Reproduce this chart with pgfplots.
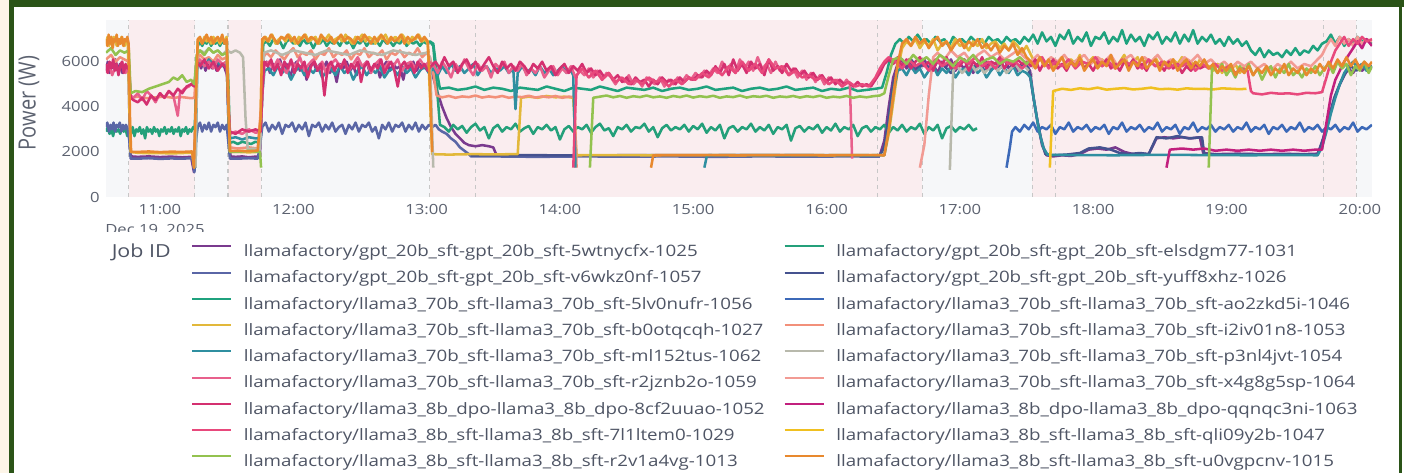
\documentclass[border=0pt]{standalone}
\usepackage{fontspec}
\setmainfont{Open Sans}
\newfontfamily\wide{Open Sans}[FakeStretch=1.19]
\usepackage{pgfplots}
\pgfplotsset{compat=1.18}
\definecolor{framegreen}{HTML}{2B5418}
\definecolor{cream}{HTML}{FDF5E8}
\definecolor{plotbg}{HTML}{F6F7F9}
\definecolor{pinkbg}{HTML}{FAEDEF}
\definecolor{tickgrey}{HTML}{5C6270}
\definecolor{leggrey}{HTML}{4F5565}
\definecolor{c1025}{HTML}{7A3A8E}
\definecolor{c1031}{HTML}{24A07A}
\definecolor{c1057}{HTML}{5A66A6}
\definecolor{c1026}{HTML}{45528F}
\definecolor{c1056}{HTML}{1FA27E}
\definecolor{c1046}{HTML}{3C69B8}
\definecolor{c1027}{HTML}{E2B83A}
\definecolor{c1053}{HTML}{F2907A}
\definecolor{c1062}{HTML}{2F8FA0}
\definecolor{c1054}{HTML}{B8B9AC}
\definecolor{c1059}{HTML}{E8608C}
\definecolor{c1064}{HTML}{F29B94}
\definecolor{c1052}{HTML}{D43070}
\definecolor{c1063}{HTML}{C2207E}
\definecolor{c1029}{HTML}{E8497C}
\definecolor{c1047}{HTML}{F0C020}
\definecolor{c1013}{HTML}{93C24F}
\definecolor{c1015}{HTML}{E8892E}
\newcommand\LE[1]{\rule[-1.5pt]{0pt}{11pt}\makebox[401.25pt][l]{#1}}
\begin{document}
\begin{tikzpicture}[x=0.75pt,y=0.75pt]
\clip (0,0) rectangle (1404,473);
\fill[white] (0,0) rectangle (1404,473);
\fill[cream] (0,0) rectangle (9,473);
\fill[framegreen] (9,0) rectangle (14,473);
\fill[framegreen] (9,466) rectangle (1404,473);
\fill[framegreen] (1399,0) rectangle (1402,473);
\node[anchor=north west, inner sep=0pt, text=tickgrey, font=\wide\fontsize{10.5}{12}\selectfont] at (105,249) {Dec 19, 2025};
\fill[white] (95,241) rectangle (260,200);
\node[rotate=90, text=tickgrey, font=\fontsize{15}{17}\selectfont] at (29,370) {\scalebox{1}[1.19]{Power (W)}};
\node[anchor=base west, inner sep=0pt, text=leggrey, font=\wide\fontsize{13.5}{15}\selectfont] at (111.5,215.3) {Job ID};
\begin{axis}[at={(79.5pt,207pt)}, anchor=south west, scale only axis,
  width=949.5pt, height=132.75pt,
  xmin=35.7, xmax=605.5, ymin=0, ymax=7850,
  axis line style={draw=none}, tick style={draw=none},
  xtick={60,120,180,240,300,360,420,480,540,600},
  xticklabels={11:00,12:00,13:00,14:00,15:00,16:00,17:00,18:00,19:00,20:00},
  ytick={0,2000,4000,6000},
  /pgf/number format/assume math mode=true,
  /pgf/number format/1000 sep={},
  ticklabel style={font=\wide\fontsize{10.5}{12}\selectfont, text=tickgrey},
  xticklabel style={anchor=center, yshift=-9.75pt},
  yticklabel style={anchor=east, inner xsep=4.5pt},
  axis background/.style={fill=plotbg},
  unbounded coords=jump,
  every axis plot/.append style={line width=1.9pt, line join=round},
  legend columns=2,
  legend cell align=left,
  legend image code/.code={\draw[#1, line width=1.6pt] (0pt,3.75pt) -- (29.25pt,3.75pt);},
  legend style={at={(0.06714,-0.2655)}, anchor=north west, draw=none, fill=none,
    inner sep=0pt, outer sep=0pt, row sep=8.69pt,
    font=\wide\fontsize{11.8}{14}\selectfont, text=leggrey,
    nodes={inner sep=0pt, outer sep=0pt},
    /tikz/every odd column/.style={column sep=8.8pt},
    /tikz/every even column/.style={column sep=3.45pt}},
]
\fill[pinkbg] (axis cs:46,0) rectangle (axis cs:75.7,7850);
\fill[pinkbg] (axis cs:90.6,0) rectangle (axis cs:105.5,7850);
\fill[pinkbg] (axis cs:181.5,0) rectangle (axis cs:403,7850);
\fill[pinkbg] (axis cs:452.6,0) rectangle (axis cs:598.5,7850);
\foreach \v in {46,75.7,90.6,105.5,181.5,201.8,382.8,403,452.6,463,583.6,598.5}{
  \edef\tmp{\noexpand\draw[black!22, line width=0.8pt, dash pattern=on 3pt off 3pt] (axis cs:\v,0) -- (axis cs:\v,7850);}\tmp }

% 1025 purple
\addplot[c1025] coordinates {(35.7,5600)(36.5,6000)(37.3,5500)(38,5900)(39,5700)(40,6100)(41,5600)(42,5900)(43,5500)(44,5800)(45,5700)(45.8,5900)(46.5,2200)(47,1800)(50,1780)(55,1800)(60,1770)(65,1790)(70,1760)(74,1780)(75.3,1100)(76.5,5600)(77.5,6100)(78.5,5700)(79.5,6000)(80.5,5600)(81.5,5900)(82.5,6100)(83.5,5700)(84.5,5900)(85.5,5600)(86.5,6000)(87.5,5800)(88.5,5900)(89.5,5600)(90.3,5400)(91,2500)(91.8,1800)(94,1780)(97,1800)(100,1760)(103,1790)(105,1780)(105.8,4000)(106.5,5800)(108,6000)(109.5,5500)(111,5900)(112.5,5700)(114,6100)(115.5,5600)(117,5900)(118.5,5300)(120,5800)(121.5,6000)(123,5600)(124.5,5900)(126,5200)(127.5,5800)(129,6000)(130.5,5600)(132,5900)(133.5,5700)(135,6000)(136.5,5500)(138,5800)(139.5,5100)(141,5900)(142.5,5700)(144,6000)(145.5,5600)(147,5800)(148.5,5400)(150,5900)(151.5,5700)(153,6000)(154.5,5500)(156,5800)(157.5,5900)(159,5300)(160.5,5800)(162,6000)(163.5,5600)(165,5900)(166.5,5700)(168,5800)(169.5,5200)(171,5900)(172.5,5700)(174,6000)(175.5,5600)(177,5900)(178.5,5700)(180,5800)(181.5,5700)(183,5300)(185,4600)(187,4000)(189,3500)(191,3100)(193,2800)(195,2600)(197,2400)(199,2300)(202,2250)(205,2300)(208,2250)(210,2200)(211.5,1850)(220,1830)(240,1850)(260,1820)(280,1840)(300,1830)(320,1850)(340,1830)(360,1840)(380,1850)(384,1850)(386,2500)(388,4000)(390,5300)(392,5900)(394,6100)(396,5700)(398,6000)(400,5600)(402,5900)(404,6100)(406,5700)(408,5900)(410,5500)(412,6000)(414,5800)(416,6100)(418,5600)(420,5900)(422,5700)(424,6000)(426,5500)(428,5900)(430,5700)(432,6000)(434,5600)(436,5900)(438,5800)(440,6100)(442,5700)(444,5900)(446,5600)(448,5900)(450,5800)(451.6,5600)(453,4500)(455,3300)(457,2300)(459,1850)(462,1800)(466,1850)(470,1820)(474,1900)(478,2100)(482,2150)(486,2100)(490,2200)(494,2000)(498,1900)(501,1920)(505,1900)(508.5,2600)(512,2650)(516,2600)(520,2650)(524,2600)(528,2650)(529.5,1950)(535,1900)(545,1920)(555,1900)(565,1910)(575,1900)(581,1920)(583,2400)(585,3100)(587,3800)(589,4500)(591,5000)(593,5400)(595,5700)(597,5500)(599,5900)(601,5600)(603,5800)(605.5,5700)};
\addlegendentry{\LE{llamafactory/gpt\_20b\_sft-gpt\_20b\_sft-5wtnycfx-1025}}
% 1031 green
\addplot[c1031] coordinates {(35.7,2900)(36.5,3100)(37.3,2800)(38.1,3000)(38.9,2700)(39.7,3100)(40.5,2900)(41.3,3000)(42.1,2800)(42.9,3100)(43.7,2900)(44.5,3000)(45.3,2700)(46.1,3000)(46.9,2800)(47.7,3100)(48.5,2700)(49.3,3000)(50.1,2900)(50.9,3100)(51.7,2800)(52.5,3000)(53.3,2600)(54.1,3100)(54.9,2900)(55.7,3000)(56.5,2800)(57.3,3100)(58.1,2900)(58.9,3000)(59.7,2700)(60.5,3000)(61.3,2900)(62.1,3100)(62.9,2800)(63.7,3000)(64.5,2900)(65.3,3100)(66.1,2800)(66.9,3000)(67.7,2900)(68.5,3100)(69.3,2700)(70.1,3000)(70.9,2900)(71.7,3100)(72.5,2800)(73.3,3000)(74.1,2900)(74.9,3100)(75.6,3000)(76.3,4800)(77,6700)(78,6900)(79,6700)(80,6900)(81,6800)(82,7000)(83,6700)(84,6900)(85,6800)(86,6900)(87,6700)(88,6900)(89,6800)(90,6900)(90.8,5000)(91.5,2400)(93,2450)(95,2350)(97,2450)(99,2400)(101,2350)(103,2450)(105,2400)(105.8,4500)(106.5,6800)(108,6900)(109.5,6700)(111,7000)(112.5,6800)(114,6900)(115.5,6600)(117,6900)(118.5,7000)(120,6800)(121.5,6900)(123,6700)(124.5,7000)(126,6800)(127.5,6900)(129,6600)(130.5,6900)(132,6800)(133.5,7000)(135,6700)(136.5,6900)(138,6800)(139.5,6900)(141,6700)(142.5,7000)(144,6800)(145.5,6900)(147,6600)(148.5,6900)(150,6800)(151.5,7000)(153,6700)(154.5,6900)(156,6800)(157.5,6900)(159,6700)(160.5,7000)(162,6800)(163.5,6900)(165,6700)(166.5,6900)(168,6800)(169.5,7000)(171,6700)(172.5,6900)(174,6800)(175.5,6900)(177,6700)(178.5,6900)(180,6800)(181.5,6900)(183,6700)(184.5,5000)(186,3200)(188,3100)(190,2900)(192,3200)(194,3000)(196,3150)(198,2850)(200,3100)(202,3250)(204,2950)(206,3100)(208,2600)(210,3050)(212,3200)(214,2900)(216,3100)(218,3000)(220,3250)(222,2900)(224,3050)(226,3150)(228,2800)(230,3100)(232,3000)(234,3200)(236,2950)(238,3100)(240,2550)(242,3000)(244,3150)(246,2900)(248,3100)(250,3000)(252,3200)(254,2850)(256,3100)(258,3250)(260,2950)(262,3050)(264,2700)(266,3100)(268,3000)(270,3200)(272,2900)(274,3100)(276,3050)(278,3250)(280,2900)(282,3100)(284,2650)(286,3050)(288,3200)(290,2950)(292,3100)(294,3000)(296,3200)(298,2900)(300,3150)(302,3000)(304,3250)(306,2850)(308,3100)(310,2950)(312,3200)(314,2600)(316,3050)(318,3150)(320,2900)(322,3100)(324,3000)(326,3250)(328,2900)(330,3100)(332,2950)(334,3200)(336,2800)(338,3100)(340,3000)(342,3200)(344,2500)(346,3050)(348,3150)(350,2900)(352,3100)(354,3000)(356,3200)(358,2850)(360,3100)(362,2950)(364,3250)(366,2900)(368,3100)(370,3000)(372,3200)(374,2700)(376,3050)(378,3150)(380,2900)(382,3100)(384,3000)(386,3200)(388,2850)(390,3100)(392,2950)(394,3200)(396,2900)(398,3100)(400,3000)(402,3250)(404,2800)(406,3100)(408,2950)(410,3200)(412,2600)(414,3050)(416,3150)(418,2900)(420,3100)(422,3000)(424,3200)(426,2950)(427.7,3050)};
\addlegendentry{\LE{llamafactory/gpt\_20b\_sft-gpt\_20b\_sft-elsdgm77-1031}}
% 1057 slate blue
\addplot[c1057] coordinates {(35.7,3100)(36.3,3300)(37,2900)(37.7,3200)(38.4,3000)(39.1,3300)(39.8,2900)(40.5,3200)(41.2,3100)(41.9,3300)(42.6,2900)(43.3,3200)(44,3000)(44.7,3200)(45.5,3000)(46.2,2500)(46.8,1700)(50,1700)(55,1720)(60,1690)(65,1710)(70,1700)(74.5,1720)(75.5,1100)(76.3,2600)(77,3100)(78,3300)(79,2900)(80,3200)(81,3000)(82,3300)(83,2900)(84,3200)(85,3100)(86,3300)(87,2900)(88,3200)(89,3000)(90,3200)(90.8,2400)(91.5,1700)(95,1700)(100,1720)(104,1700)(105.3,2500)(106,3100)(107.5,3300)(109,2900)(110.5,3200)(112,3000)(113.5,3300)(115,2800)(116.5,3200)(118,3100)(119.5,3300)(121,2900)(122.5,3200)(124,3000)(125.5,3300)(127,2700)(128.5,3200)(130,3100)(131.5,3300)(133,2900)(134.5,3200)(136,3000)(137.5,3300)(139,2900)(140.5,3100)(142,3200)(143.5,2800)(145,3200)(146.5,3000)(148,3300)(149.5,2900)(151,3200)(152.5,3100)(154,3300)(155.5,2900)(157,3100)(158.5,2600)(160,3200)(161.5,3000)(163,3300)(164.5,2900)(166,3200)(167.5,3100)(169,3300)(170.5,2900)(172,3200)(173.5,3000)(175,3300)(176.5,2900)(178,3200)(179.5,3000)(181,3200)(182.5,3100)(184,3200)(185.5,3000)(187,2900)(189,2800)(191,2600)(193,2450)(195,2200)(197,2050)(199,1900)(200,1800)(210,1800)(230,1780)(250,1800)(270,1790)(290,1800)(310,1780)(330,1800)(350,1790)(370,1800)(384,1790)};
\addlegendentry{\LE{llamafactory/gpt\_20b\_sft-gpt\_20b\_sft-v6wkz0nf-1057}}
% 1026 dark blue
\addplot[c1026] coordinates {(200,1850)(220,1860)(250,1840)(280,1860)(310,1850)(340,1860)(370,1840)(384,1850)(386,2200)(388,3500)(390,5000)(392,5700)(395,5800)(398,6100)(401,5700)(404,5900)(407,5600)(410,6000)(413,5800)(416,5500)(419,5900)(422,6100)(425,5700)(428,5900)(431,5600)(434,6000)(437,5800)(440,5700)(443,6000)(446,5800)(449,5900)(451,5700)(452.5,4800)(454.5,3600)(456.5,2600)(458.5,1900)(462,1850)(468,1880)(474,1950)(478,2150)(483,2200)(488,2100)(492,1950)(496,1900)(501,1950)(505,1900)(508.5,2650)(513,2600)(518,2700)(523,2600)(529,2650)(530,1900)(540,1880)(550,1900)(560,1880)(570,1900)(581,1880)(583.5,2600)(586,3500)(588.5,4400)(591,5000)(593.5,5500)(596,5800)(598.5,5600)(601,5900)(603.5,5700)(605.5,5800)};
\addlegendentry{\LE{llamafactory/gpt\_20b\_sft-gpt\_20b\_sft-yuff8xhz-1026}}
% 1056 green
\addplot[c1056] coordinates {(181.5,6900)(183,6800)(184.5,5600)(186,4800)(190,4850)(194,4750)(198,4800)(202,4900)(206,4750)(210,4850)(214,4800)(218,4700)(222,4850)(226,4800)(230,4750)(234,4900)(238,4800)(242,4700)(246,4850)(250,4800)(254,4750)(258,4900)(262,4800)(266,4700)(270,4850)(274,4800)(278,4750)(282,4850)(286,4700)(290,4800)(294,4850)(298,4750)(302,4800)(306,4900)(310,4750)(314,4800)(318,4850)(322,4700)(326,4800)(330,4850)(334,4750)(338,4800)(342,4900)(346,4750)(350,4800)(354,4850)(358,4700)(362,4800)(366,4750)(370,4850)(374,4700)(378,4750)(382,4800)(385,4850)(387,5500)(389,6300)(391,6800)(393,7000)(395,6800)(397,7100)(399,6900)(401,7200)(403,6900)(405,7000)(407,6800)(409,7100)(411,6900)(413,7000)(415,6700)(417,7100)(419,6900)(421,7000)(423,6800)(425,7100)(427,6900)(429,7000)(431,6800)(433,7100)(435,6900)(437,7000)(439,6800)(441,7100)(443,6900)(445,7000)(447,6800)(449,7100)(451,6900)(453,7200)(455,6800)(457,7300)(459,6900)(461,7100)(463,6700)(465,7200)(467,7000)(469,7400)(471,6800)(473,7100)(475,6900)(477,7300)(479,6700)(481,7100)(483,7000)(485,7300)(487,6800)(489,7100)(491,6900)(493,7400)(495,6800)(497,7200)(499,6900)(501,7100)(503,6700)(505,7200)(507,7000)(509,7300)(511,6800)(513,7100)(515,6900)(517,7300)(519,6800)(521,7200)(523,6900)(525,7400)(527,6800)(529,7100)(531,6900)(533,7200)(535,6800)(537,7000)(539,6700)(541,7100)(543,6800)(545,7000)(547,6700)(549,6900)(551,6500)(553,6300)(555,6600)(557,6200)(559,6500)(561,6300)(563,6400)(565,6200)(567,6500)(569,6300)(571,6600)(573,6300)(575,6500)(577,6400)(579,6700)(581,6500)(583,6800)(585,6900)(587,7200)(589,6800)(591,7100)(593,6700)(595,7000)(597,6800)(599,7100)(601,6900)(603,7000)(605.5,6800)};
\addlegendentry{\LE{llamafactory/llama3\_70b\_sft-llama3\_70b\_sft-5lv0nufr-1056}}
% 1046 blue
\addplot[c1046] coordinates {(441,1300)(442.5,2200)(443.5,2900)(445,3100)(447,2900)(449,3200)(451,3000)(453,3300)(455,2900)(457,3100)(459,3000)(461,3200)(463,2800)(465,3100)(467,3000)(469,3300)(471,2900)(473,3100)(475,3000)(477,3200)(479,2900)(481,3100)(483,3000)(485,3200)(487,2800)(489,3100)(491,3000)(493,3300)(495,2900)(497,3100)(499,3000)(501,3200)(503,2900)(505,3100)(507,3000)(509,3300)(511,2900)(513,3100)(515,3000)(517,3200)(519,2800)(521,3100)(523,3000)(525,3300)(527,2900)(529,3100)(531,3000)(533,3200)(535,2900)(537,3100)(539,3000)(541,3200)(543,2900)(545,3100)(547,3000)(549,3300)(551,2900)(553,3100)(555,3000)(557,3200)(559,2800)(561,3100)(563,3000)(565,3200)(567,2900)(569,3100)(571,3000)(573,3300)(575,2900)(577,3100)(579,3000)(581,3200)(583,2900)(585,3100)(587,3000)(589,3200)(591,2900)(593,3100)(595,3000)(597,3300)(599,2900)(601,3100)(603,3000)(605.5,3200)};
\addlegendentry{\LE{llamafactory/llama3\_70b\_sft-llama3\_70b\_sft-ao2zkd5i-1046}}
% 1027 yellow
\addplot[c1027] coordinates {(35.7,6800)(36.4,7100)(37.1,6700)(37.8,7000)(38.5,6800)(39.2,7100)(39.9,6900)(40.6,6700)(41.3,7000)(42,6800)(42.7,7100)(43.4,6900)(44.1,6700)(44.8,7000)(45.5,6800)(46.2,4000)(46.8,2000)(50,1960)(55,1940)(60,1950)(65,1930)(70,1950)(74.5,1960)(75.4,1300)(76.2,4000)(77,6900)(78,7000)(79,6800)(80,7100)(81,6900)(82,7000)(83,6800)(84,7100)(85,6900)(86,7000)(87,6800)(88,7000)(89,6900)(90,7100)(90.8,4500)(91.5,2000)(95,2000)(100,1980)(104,2000)(105.3,3500)(106,6800)(107.5,7100)(109,6900)(110.5,7200)(112,6800)(113.5,7000)(115,7100)(116.5,6900)(118,7200)(119.5,7000)(121,6800)(122.5,7100)(124,7000)(125.5,7200)(127,6900)(128.5,7000)(130,7100)(131.5,6800)(133,7100)(134.5,7000)(136,7200)(137.5,6900)(139,7000)(140.5,7100)(142,6900)(143.5,7200)(145,7000)(146.5,6800)(148,7100)(149.5,7000)(151,7200)(152.5,6900)(154,7100)(155.5,7000)(157,6800)(158.5,7100)(160,7000)(161.5,7200)(163,6900)(164.5,7000)(166,7100)(167.5,6900)(169,7200)(170.5,7000)(172,6800)(173.5,7100)(175,7000)(176.5,7200)(178,6900)(179.5,7000)(180.5,6800)(181.5,4500)(182.5,1900)(190,1880)(200,1900)(210,1890)(221,1900)(222.5,4400)(226,4450)(230,4400)(234,4480)(238,4420)(242,4450)(246,4400)(247.5,1850)(260,1860)(280,1850)(300,1860)(320,1850)(340,1860)(360,1850)(380,1860)(386,1850)(388,2800)(390,4200)(392,5600)(394,6600)(396,6900)(398,6700)(400,7000)(402,6600)(404,6900)(406,6700)(408,7000)(410,6500)(412,6800)(414,6900)(416,6600)(418,7000)(420,6700)(422,6800)(424,6500)(426,6900)(428,6700)(430,7000)(432,6600)(434,6800)(436,6900)(438,6600)(440,6800)(442,6500)(444,6900)(446,6700)(448,6400)(450,6700)(452,6300)(454,5900)(456,6200)(458,5800)(460,6100)(462,5700)(464,6000)(466,6200)(468,5800)(470,6100)(472,5900)(474,6300)(476,5700)(478,6000)(480,6200)(482,5800)(484,6100)(486,5900)(488,6200)(490,5700)(492,6000)(494,6300)(496,5800)(498,6000)(500,6200)(502,5700)(504,6100)(506,5900)(508,6200)(510,5800)(512,6000)(514,5700)(516,6100)(518,5900)(520,6200)(522,5800)(524,6000)(526,5700)(528,6100)(530,5900)(532,5800)(534,5600)(536,5900)(538,5500)(540,5800)(542,5600)(544,5900)(546,5500)(548,5800)};
\addlegendentry{\LE{llamafactory/llama3\_70b\_sft-llama3\_70b\_sft-b0otqcqh-1027}}
% 1053 salmon
\addplot[c1053] coordinates {(35.7,6100)(38,6300)(40,6000)(42,6200)(44,6100)(46,6000)(46.8,4400)(50,4450)(54,4380)(58,4420)(62,4450)(66,4400)(70,4430)(74,4380)(75.5,4400)(76.5,6100)(78,6300)(80,6100)(82,6200)(84,6000)(86,6300)(88,6100)(90,6200)(90.8,4000)(91.5,2200)(95,2150)(100,2200)(104,2150)(105.5,4000)(106.5,6200)(108,6400)(110,6200)(112,6500)(114,6300)(116,6100)(118,6400)(120,6600)(122,6200)(124,6400)(126,6300)(128,6500)(130,6100)(132,6400)(134,6300)(136,6600)(138,6200)(140,6400)(142,6300)(144,6500)(146,6100)(148,6400)(150,6300)(152,6600)(154,6200)(156,6400)(158,6300)(160,6500)(162,6100)(164,6400)(166,6300)(168,6500)(170,6200)(172,6400)(174,6300)(176,6600)(178,6200)(180,6400)(181.5,6200)(183,5500)(184.5,4500)(187,4420)(190,4480)(193,4400)(196,4460)(199,4430)(202,4500)(205,4410)(208,4460)(211,4420)(214,4480)(217,4400)(220,4450)(223,4430)(226,4490)(229,4410)(232,4460)(235,4420)(238,4480)(241,4400)(244,4450)(246.5,4430)(247.5,1300)};
\addlegendentry{\LE{llamafactory/llama3\_70b\_sft-llama3\_70b\_sft-i2iv01n8-1053}}
% 1062 teal
\addplot[c1062] coordinates {(76,1300)(76.8,5900)(78,6000)(80,5800)(82,6100)(84,5900)(86,6000)(88,5800)(90,6000)(90.8,3500)(91.5,2600)(94,2650)(97,2550)(100,2650)(103,2600)(105.3,2600)(106,4500)(107,5600)(109,5700)(111,5400)(113,5800)(115,5500)(117,5700)(119,5200)(121,5600)(123,5800)(125,5400)(127,5700)(129,5500)(131,5800)(133,5300)(135,5600)(137,5700)(139,5400)(141,5800)(143,5500)(145,5700)(147,5200)(149,5600)(151,5800)(153,5400)(155,5700)(157,5500)(159,5800)(161,5300)(163,5600)(165,5700)(167,5400)(169,5800)(171,5500)(173,5700)(175,5300)(177,5600)(179,5800)(181,5500)(183,5700)(185,5400)(187,5800)(189,5500)(191,5900)(193,5600)(195,5800)(197,5500)(199,5700)(201,5900)(203,5400)(205,5700)(207,5800)(209,5500)(211,5700)(213,5600)(215,5800)(217,5500)(219,5700)(220,3900)(221,5500)(223,5800)(225,5500)(227,5700)(229,5400)(231,5800)(233,5500)(235,5700)(237,5400)(239,5600)(241,5800)(243,5500)(245,5600)(246,5400)(247,1300)(248,nan)(305,1300)(306.2,1850)(320,1860)(340,1850)(360,1860)(380,1850)(386,1860)(388,3000)(390,4600)(392,5600)(394,5700)(396,5400)(398,5800)(400,5500)(402,5700)(404,5300)(406,5600)(408,5800)(410,5400)(412,5700)(414,5500)(416,5800)(418,5300)(420,5600)(422,5700)(424,5400)(426,5800)(428,5500)(430,5700)(432,5300)(434,5600)(436,5800)(438,5400)(440,5700)(442,5500)(444,5800)(446,5400)(448,5600)(450,5500)(451.8,5300)(453.5,4200)(455.5,3000)(457.5,2200)(459.5,1870)(470,1860)(490,1850)(510,1870)(530,1860)(550,1850)(570,1860)(581,1850)(583,2200)(585,2900)(587,3700)(589,4400)(591,5000)(593,5500)(595,5800)(597,6000)(599,5700)(601,5900)(603,5600)(605.5,5800)};
\addlegendentry{\LE{llamafactory/llama3\_70b\_sft-llama3\_70b\_sft-ml152tus-1062}}
% 1054 grey
\addplot[c1054] coordinates {(76,1300)(76.8,6300)(78,6500)(80,6400)(82,6600)(84,6400)(86,6500)(88,6300)(90,6500)(92,6400)(94,6500)(96,6400)(97.4,6200)(98.5,3500)(99.5,2100)(102,2150)(105,2100)(105.8,4000)(106.8,6400)(110,6500)(115,6300)(120,6500)(125,6400)(130,6300)(135,6500)(140,6400)(145,6300)(150,6500)(155,6400)(160,6300)(165,6500)(170,6400)(175,6300)(180,6400)(181.5,6200)(183,1300)(184,nan)(415.5,1200)(417,5600)(419,5800)(421,5500)(423,5700)(425,5900)(427,5600)(429,5800)(431,5500)(433,5700)(435,5900)(437,5600)(439,5800)(441,5500)(443,5700)(445,5900)(447,5600)(449,5800)(451,5600)};
\addlegendentry{\LE{llamafactory/llama3\_70b\_sft-llama3\_70b\_sft-p3nl4jvt-1054}}
% 1059 pink
\addplot[c1059] coordinates {(35.7,5500)(37,5900)(38.5,5400)(40,5800)(41.5,5600)(43,6000)(44.5,5500)(46,5800)(46.8,4500)(48,4400)(50,4600)(52,4300)(54,4700)(56,4500)(58,4200)(60,4600)(62,4400)(64,4700)(66,4500)(68,3600)(69,4600)(71,4800)(73,4900)(75,5100)(75.8,5200)(76.6,5900)(78,6100)(80,5800)(82,6000)(84,5700)(86,6100)(88,5900)(90,6000)(90.8,4000)(91.5,2800)(94,2900)(97,2800)(100,3000)(103,2850)(105.3,2900)(106,4500)(107,5900)(109,6000)(111,5700)(113,6100)(115,5800)(117,5500)(119,6000)(121,5800)(123,6200)(125,5600)(127,5900)(129,6100)(131,5700)(133,6000)(135,5400)(137,5900)(139,6100)(141,5800)(143,6000)(145,5600)(147,5900)(149,6200)(151,5800)(153,6000)(155,5500)(157,5900)(159,6100)(161,5700)(163,6000)(165,5800)(167,6100)(169,5600)(171,5900)(173,6000)(175,5700)(177,6100)(179,5800)(181,6000)(183,5900)(185,5500)(187,6000)(189,5700)(191,5300)(193,5900)(195,5600)(197,6100)(199,5700)(201,5400)(203,5900)(205,5600)(207,5800)(209,5300)(211,5900)(213,5700)(215,6000)(217,5500)(219,5800)(221,5600)(223,5900)(225,5400)(227,5700)(229,5500)(231,5800)(233,5300)(235,5600)(237,5800)(239,5400)(241,5700)(243,5500)(245,5800)(247,5300)(249,5600)(251,5400)(253,5700)(255,5300)(257,5600)(259,5200)(261,5500)(263,5300)(265,5000)(267,5300)(269,5100)(271,5400)(273,5000)(275,5200)(277,4900)(279,5300)(281,5100)(283,5000)(285,5300)(287,4900)(289,5200)(291,5000)(293,5300)(295,5100)(297,5400)(299,5200)(301,5500)(303,5300)(305,5600)(307,5400)(309,5700)(311,5500)(313,6000)(315,5600)(317,5900)(319,5500)(321,6100)(323,5700)(325,6000)(327,5600)(329,6200)(331,5700)(333,5900)(335,5500)(337,6000)(339,5600)(341,5800)(343,5400)(345,5700)(347,5300)(349,5600)(351,5200)(353,5500)(355,5100)(357,5400)(359,5000)(361,5300)(363,5100)(365,5200)(367,4900)(369,5200)(370.5,5000)(371.5,1700)};
\addlegendentry{\LE{llamafactory/llama3\_70b\_sft-llama3\_70b\_sft-r2jznb2o-1059}}
% 1064 light salmon
\addplot[c1064] coordinates {(402,1300)(404,2300)(406,4500)(408,6200)(410,6400)(413,6100)(416,6500)(419,6200)(422,6400)(425,6000)(428,6300)(431,6500)(434,6200)(437,6400)(440,6100)(443,6300)(446,6500)(449,6200)(452,6000)(455,6300)(458,5900)(461,6200)(464,6000)(467,6300)(470,5900)(473,6100)(476,6300)(479,5900)(482,6200)(485,6000)(488,6300)(491,5800)(494,6100)(497,6300)(500,5900)(503,6200)(506,6000)(509,6300)(512,5900)(515,6100)(518,5800)(521,6200)(524,6000)(527,6300)(530,5900)(533,6100)(536,5800)(539,6000)(542,5700)(545,6000)(548,5800)(551,6000)(554,5700)(557,5900)(560,5600)(563,5900)(566,5700)(569,6000)(572,5700)(575,5900)(578,5800)(581,6100)(583,6300)(585,6700)(587,7000)(589,6700)(591,7100)(593,6800)(595,7000)(597,6700)(599,7100)(601,6800)(603,7000)(605.5,6900)};
\addlegendentry{\LE{llamafactory/llama3\_70b\_sft-llama3\_70b\_sft-x4g8g5sp-1064}}
% 1052 magenta red
\addplot[c1052] coordinates {(35.7,5900)(36.5,5500)(37.3,6000)(38.1,5700)(38.9,6100)(39.7,5600)(40.5,5900)(41.3,5400)(42.1,5800)(42.9,6000)(43.7,5500)(44.5,5900)(45.3,5700)(46,5800)(46.8,4400)(48,4300)(50,4200)(52,4400)(54,4100)(56,4500)(58,4300)(60,4600)(62,4400)(64,4700)(66,4500)(68,4800)(70,4600)(72,4900)(74,5000)(75.5,4900)(76.5,6000)(78,5800)(80,6100)(82,5700)(84,6000)(86,5600)(88,5900)(90,5700)(90.8,4000)(91.5,2900)(94,2800)(97,3000)(100,2900)(103,3000)(105.3,2900)(106.2,5000)(107,6000)(108.5,5800)(110,6100)(111.5,5600)(113,5900)(114.5,5400)(116,6000)(117.5,5700)(119,6100)(120.5,5500)(122,5900)(123.5,5700)(125,6000)(126.5,5300)(128,5800)(129.5,6000)(131,5600)(132.5,5900)(134,4500)(135.5,5800)(137,6000)(138.5,5600)(140,5900)(141.5,5700)(143,6100)(144.5,5500)(146,5900)(147.5,5700)(149,6000)(150.5,5100)(152,5800)(153.5,6000)(155,5600)(156.5,5900)(158,5700)(159.5,6100)(161,5500)(162.5,5800)(164,6000)(165.5,5600)(167,4900)(168.5,5800)(170,6000)(171.5,5700)(173,5900)(174.5,5500)(176,6000)(177.5,5700)(179,5900)(180.5,5600)(182,5800)(184,6000)(186,5700)(188,6200)(190,5800)(192,6000)(194,5500)(196,5900)(198,6100)(200,5700)(202,6000)(204,5600)(206,5900)(208,6200)(210,5800)(212,5500)(214,6000)(216,5700)(218,5900)(220,5600)(222,6000)(224,5800)(226,5500)(228,5900)(230,5700)(232,6000)(234,5600)(236,5800)(238,5400)(240,5700)(242,5900)(244,5500)(246,5800)(248,5600)(250,5900)(252,5500)(254,5700)(256,5400)(258,5600)(260,5300)(262,5500)(264,5200)(266,5400)(268,5100)(270,5300)(272,5000)(274,5300)(276,5100)(278,5200)(280,4900)(282,5200)(284,5000)(286,5300)(288,5100)(290,5200)(292,5000)(294,5300)(296,5100)(298,5300)(300,5200)(302,5400)(304,5300)(306,5600)(308,5400)(310,5800)(312,5500)(314,5900)(316,5400)(318,6100)(320,5600)(322,5900)(324,5500)(326,6000)(328,5700)(330,5900)(332,5400)(334,6100)(336,5600)(338,5800)(340,5500)(342,5900)(344,5600)(346,5700)(348,5400)(350,5600)(352,5300)(354,5500)(356,5200)(358,5400)(360,5100)(362,5300)(364,5000)(366,5200)(368,5000)(370,5100)(372,4900)(374,5100)(376,4900)(378,5000)(380,4900)(382,5200)(384,5500)(386,5900)(388,6100)(390,5900)(392,6200)(394,5800)(396,6100)(398,5700)(400,6000)(402,6200)(404,5800)(406,6000)(408,5600)(410,6100)(412,5900)(414,6200)(416,5700)(418,6000)(420,5800)(422,6100)(424,5600)(426,6000)(428,5800)(430,6200)(432,5700)(434,6000)(436,5900)(438,6200)(440,5700)(442,6000)(444,5800)(446,6100)(448,5900)(450,6000)(452,5800)(454,6100)(456,5600)(458,6000)(460,5800)(462,6100)(464,5700)(466,5900)(468,5600)(470,6000)(472,5800)(474,6100)(476,5700)(478,5900)(480,5600)(482,6000)(484,5800)(486,6100)(488,5700)(490,5900)(492,5600)(494,6000)(496,5800)(498,6100)(500,5700)(502,5900)(504,5600)(506,6000)(508,5800)(510,5900)(512,5600)(514,6000)(516,5700)(518,5900)(520,5500)(522,5800)(524,5600)(526,5900)(528,5700)(530,5800)};
\addlegendentry{\LE{llamafactory/llama3\_8b\_dpo-llama3\_8b\_dpo-8cf2uuao-1052}}
% 1063 magenta
\addplot[c1063] coordinates {(513,1300)(514.5,2100)(520,2150)(525,2100)(530,2150)(535,2050)(540,2100)(545,2050)(550,2100)(555,2050)(560,2100)(565,2050)(570,2100)(575,2050)(580,2100)(583,2100)(585,3300)(587,4500)(589,5200)(591,5600)(593,6000)(595,6300)(597,6600)(599,6900)(601,6600)(603,7000)(605.5,6700)};
\addlegendentry{\LE{llamafactory/llama3\_8b\_dpo-llama3\_8b\_dpo-qqnqc3ni-1063}}
% 1029 pink
\addplot[c1029] coordinates {(246,1300)(247.5,5400)(250,5700)(253,5300)(256,5600)(259,5200)(262,5500)(265,5100)(268,5300)(271,5000)(274,5200)(277,5000)(280,5300)(283,5100)(286,5200)(289,4900)(292,5200)(295,5000)(298,5300)(301,5200)(304,5500)(307,5300)(310,5700)(313,5400)(316,5800)(319,5500)(322,6000)(325,5600)(328,5900)(331,5500)(334,6100)(337,5700)(340,5800)(343,5400)(346,5600)(349,5300)(352,5400)(355,5200)(358,5300)(361,5000)(364,5200)(367,4900)(370,5100)(373,4900)(376,5000)(379,4900)(382,5300)(384,5700)(386,6000)(388,6200)(391,6000)(394,5700)(397,6100)(400,5800)(403,6000)(406,5600)(409,6100)(412,5800)(415,6000)(418,5700)(421,6100)(424,5900)(427,6200)(430,5800)(433,6000)(436,5700)(439,6100)(442,5900)(445,6000)(448,5700)(451,6000)(454,5900)(457,6200)(460,5700)(463,6000)(466,5800)(469,6100)(472,5700)(475,6000)(478,5900)(481,6200)(484,5800)(487,6000)(490,5700)(493,6100)(496,5900)(499,6000)(502,5700)(505,6100)(508,5800)(511,6000)(514,5700)(517,5900)(520,5800)(523,6000)(526,5600)(529,5900)(532,5700)(535,5900)(538,5600)(541,5800)(544,5500)(547,5700)(549.5,5600)(551,4700)(552,4600)(556,4550)(560,4620)(564,4580)(568,4600)(572,4550)(576,4620)(580,4600)(583,4650)(585,5300)(587,6000)(589,6500)(591,6800)(593,7100)(595,6700)(597,7000)(599,6800)(601,7100)(603,6900)(605.5,7000)};
\addlegendentry{\LE{llamafactory/llama3\_8b\_sft-llama3\_8b\_sft-7l1ltem0-1029}}
% 1047 gold
\addplot[c1047] coordinates {(460.5,1300)(462,4700)(466,4800)(470,4750)(474,4820)(478,4780)(482,4850)(486,4760)(490,4800)(494,4830)(498,4770)(502,4800)(506,4850)(510,4780)(514,4800)(518,4760)(522,4820)(526,4790)(530,4800)(534,4770)(538,4820)(542,4800)(546,4780)(549,4800)};
\addlegendentry{\LE{llamafactory/llama3\_8b\_sft-llama3\_8b\_sft-qli09y2b-1047}}
% 1013 yellow-green
\addplot[c1013] coordinates {(35.7,6400)(38,6600)(40,6300)(42,6500)(44,6400)(46,6500)(46.8,4600)(49,4700)(52,4650)(55,4800)(58,4900)(61,5000)(64,5100)(66,5300)(68,5200)(70,5400)(72,5100)(74,5200)(75.5,5000)(76.5,6300)(78,6500)(80,6300)(82,6600)(84,6400)(86,6500)(88,6300)(90,6400)(90.8,4000)(91.5,2000)(95,2000)(100,2050)(105,2000)(105.5,1300)(106,nan)(253.5,1300)(255,4400)(258,4450)(261,4500)(264,4420)(267,4480)(270,4400)(273,4470)(276,4430)(279,4500)(282,4420)(285,4460)(288,4400)(291,4480)(294,4430)(297,4500)(300,4410)(303,4470)(306,4430)(309,4490)(312,4400)(315,4460)(318,4430)(321,4500)(324,4410)(327,4470)(330,4440)(333,4490)(336,4400)(339,4460)(342,4430)(345,4480)(348,4410)(351,4470)(354,4430)(357,4490)(360,4400)(363,4450)(366,4420)(369,4480)(372,4400)(375,4460)(378,4420)(381,4470)(384,4500)(386,4600)(388,5400)(390,6100)(393,6200)(396,5900)(399,6300)(402,6000)(405,6200)(408,5900)(411,6300)(414,6100)(417,5800)(420,6200)(423,6000)(426,6300)(429,5900)(432,6100)(435,6200)(438,5900)(441,6100)(444,6000)(447,6200)(450,5900)(451,6000)(452,nan)(532,1300)(533.5,5800)(536,5500)(538,5900)(540,5400)(542,5700)(544,5300)(546,5800)(548,5500)(550,5900)(552,5400)(554,5700)(556,5200)(558,5600)(560,5800)(562,5300)(564,5700)(566,5500)(568,5900)(570,5400)(572,5600)(574,5300)(576,5700)(578,5500)(580,5800)(582,5400)(584,5700)(586,5900)(588,5500)(590,6000)(592,5700)(594,5900)(596,5400)(598,5800)(600,5600)(602,6000)(604,5500)(605.5,5800)};
\addlegendentry{\LE{llamafactory/llama3\_8b\_sft-llama3\_8b\_sft-r2v1a4vg-1013}}
% 1015 orange
\addplot[c1015] coordinates {(35.7,7000)(36.3,6700)(36.9,7200)(37.5,6800)(38.1,7100)(38.7,6600)(39.3,7000)(39.9,6900)(40.5,7200)(41.1,6700)(41.7,7000)(42.3,6800)(42.9,7100)(43.5,6700)(44.1,7000)(44.7,6900)(45.3,7100)(45.9,6800)(46.5,3500)(47,2000)(50,2000)(55,2020)(60,1990)(65,2010)(70,2000)(74.5,2020)(75.3,1300)(76.2,4500)(77,7000)(78,7100)(79,6800)(80,7000)(81,7200)(82,6900)(83,7100)(84,6800)(85,7000)(86,7100)(87,6900)(88,7200)(89,6800)(90,7000)(90.8,4000)(91.5,2050)(95,2050)(100,2030)(104,2060)(105.3,3500)(106,7000)(107,7100)(108.5,6900)(110,7200)(111.5,7000)(113,6800)(114.5,7100)(116,7000)(117.5,7200)(119,6900)(120.5,7100)(122,6800)(123.5,7000)(125,7200)(126.5,6900)(128,7100)(129.5,7000)(131,6800)(132.5,7200)(134,7000)(135.5,6900)(137,7100)(138.5,6800)(140,7000)(141.5,7200)(143,6900)(144.5,7100)(146,7000)(147.5,6800)(149,7100)(150.5,6900)(152,7200)(153.5,7000)(155,6800)(156.5,7100)(158,6900)(159.5,7200)(161,7000)(162.5,6800)(164,7100)(165.5,6900)(167,7000)(168.5,7200)(170,6800)(171.5,7100)(173,6900)(174.5,7000)(176,7200)(177.5,6900)(179,7100)(180.5,6900)(181.5,5000)(182.5,2000)(183,nan)(281,1300)(282,1850)(300,1860)(320,1850)(340,1860)(360,1850)(380,1860)(386,1850)(388,3000)(390,4500)(392,5900)(394,6800)(396,7000)(398,6700)(400,7100)(402,6800)(404,7000)(406,6600)(408,6900)(410,7100)(412,6700)(414,6900)(416,6500)(418,6800)(420,7000)(422,6600)(424,6900)(426,6700)(428,7000)(430,6600)(432,6800)(434,6500)(436,6800)(438,6400)(440,6700)(442,6500)(444,6800)(446,6300)(448,6600)(450,6200)(452,6000)(454,5700)(456,6200)(458,5800)(460,6100)(462,5600)(464,5900)(466,6200)(468,5700)(470,6000)(472,5800)(474,6200)(476,5600)(478,5900)(480,6100)(482,5700)(484,6000)(486,5800)(488,6300)(490,5700)(492,5900)(494,6100)(496,5600)(498,6000)(500,5800)(502,6200)(504,5700)(506,5900)(508,6100)(510,5600)(512,6000)(514,5800)(516,6100)(518,5600)(520,5900)(522,6100)(524,5700)(526,6000)(528,5800)(530,6100)(532,5700)(534,5900)(536,5500)(538,5800)(540,5600)(542,5900)(544,5400)(546,5700)(548,5500)(550,5800)(552,5400)(554,5700)(556,5500)(558,5800)(560,5400)(562,5700)(564,5500)(566,5900)(568,5400)(570,5700)(572,5500)(574,5800)(576,5400)(578,5700)(580,5500)(582,5900)(584,5600)(586,6000)(588,5700)(590,6100)(592,5800)(594,6200)(596,5800)(598,6100)(600,5700)(602,6000)(604,5800)(605.5,6000)};
\addlegendentry{\LE{llamafactory/llama3\_8b\_sft-llama3\_8b\_sft-u0vgpcnv-1015}}
\end{axis}
\end{tikzpicture}
\end{document}
